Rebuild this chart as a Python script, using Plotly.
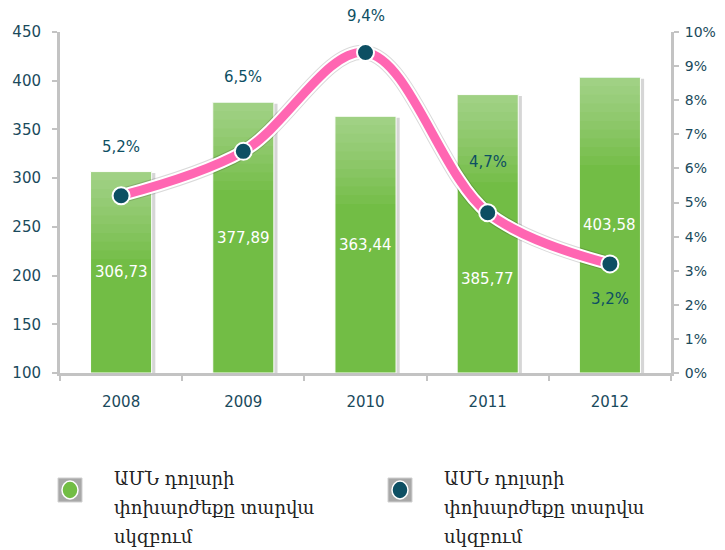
import plotly.graph_objects as go

years = ["2008", "2009", "2010", "2011", "2012"]
rates = [306.73, 377.89, 363.44, 385.77, 403.58]
pct = [5.2, 6.5, 9.4, 4.7, 3.2]
legend_lines = ["ԱՄՆ դոլարի", "փոխարժեքը տարվա", "սկզբում"]

TEAL = "#0d4f63"
GREEN = "#72bd45"
PINK = "#ff66b2"
GREY = "#c3c3c3"
AXIS_BASE = 100

# label offsets (pixels) – styling only
bar_label_shift = [0, 0, 0, -45, 0]
pct_label_shift = [49, 74, 36, 51, -35]

fig = go.Figure()

# soft shadow behind bars
fig.add_trace(go.Bar(
    x=years, y=[v - AXIS_BASE for v in rates], base=AXIS_BASE - 1.5,
    width=0.5, offset=-0.22,
    marker=dict(color="rgba(0,0,0,0.16)", line=dict(width=0)),
    showlegend=False, hoverinfo="skip",
))
# bars
fig.add_trace(go.Bar(
    x=years, y=[v - AXIS_BASE for v in rates], base=AXIS_BASE,
    width=0.5, marker=dict(color=GREEN, line=dict(color="white", width=1)),
    showlegend=False, hoverinfo="skip",
))
# light gradient at top of bars
steps = 10
for k in range(1, steps + 1):
    d = 9 * k
    fig.add_trace(go.Bar(
        x=years, y=[d] * len(rates), base=[v - d for v in rates],
        width=0.5, marker=dict(color="rgba(255,255,255,0.045)", line=dict(width=0)),
        showlegend=False, hoverinfo="skip",
    ))

# line with white halo
fig.add_trace(go.Scatter(
    x=years, y=pct, yaxis="y2", mode="lines",
    line=dict(color="rgba(0,0,0,0.15)", width=15, shape="spline", smoothing=1.0),
    showlegend=False, hoverinfo="skip",
))
fig.add_trace(go.Scatter(
    x=years, y=pct, yaxis="y2", mode="lines",
    line=dict(color="white", width=13, shape="spline", smoothing=1.0),
    showlegend=False, hoverinfo="skip",
))
fig.add_trace(go.Scatter(
    x=years, y=pct, yaxis="y2", mode="lines+markers",
    line=dict(color=PINK, width=9, shape="spline", smoothing=1.0),
    marker=dict(size=17, color=TEAL, line=dict(color="white", width=2)),
    showlegend=False, hoverinfo="skip",
))

# bar value labels
for i, (v, s) in enumerate(zip(rates, bar_label_shift)):
    fig.add_annotation(
        x=i, y=(AXIS_BASE + v) / 2, xref="x", yref="y",
        text=f"{v:.2f}".replace(".", ","), showarrow=False, yshift=s,
        font=dict(color="white", size=15, family="DejaVu Sans"),
    )

# percent labels
for i, (p, s) in enumerate(zip(pct, pct_label_shift)):
    fig.add_annotation(
        x=i, y=p, xref="x", yref="y2", text=f"{p:.1f}%".replace(".", ","),
        showarrow=False, yshift=s,
        font=dict(color=TEAL, size=15, family="DejaVu Sans"),
    )

axis_font = dict(color="#1a4a5c", size=15, family="DejaVu Sans")

fig.update_layout(
    width=717, height=542,
    margin=dict(l=52, r=54, t=24, b=177, autoexpand=False),
    paper_bgcolor="white", plot_bgcolor="white",
    barmode="overlay", showlegend=False,
    xaxis=dict(
        type="category", range=[-0.5, 4.5], showgrid=False,
        showline=True, linecolor=GREY, linewidth=3,
        ticks="outside", tickson="boundaries", ticklen=5, tickcolor=GREY, tickwidth=2,
        tickfont=axis_font, zeroline=False, ticklabelstandoff=13,
    ),
    yaxis=dict(
        range=[AXIS_BASE, 450], dtick=50, showgrid=False, zeroline=False,
        showline=True, linecolor=GREY, linewidth=3,
        ticks="outside", ticklen=5, tickcolor=GREY, tickwidth=2,
        tickfont=axis_font, automargin=False, ticklabelstandoff=8,
    ),
    yaxis2=dict(
        range=[0, 10], dtick=1, ticksuffix="%", overlaying="y", side="right",
        showgrid=False, zeroline=False,
        showline=True, linecolor=GREY, linewidth=3,
        ticks="outside", ticklen=5, tickcolor=GREY, tickwidth=2,
        tickfont=dict(color="#1a4a5c", size=14, family="DejaVu Sans"),
        automargin=False, ticklabelstandoff=3,
    ),
)

# manual legend (page pixel -> paper coords; plot area x 60..671, y 32..373)
def px(x):
    return (x - 60) / 611

def py(y):
    return (373 - y) / 341

for col, cx in [(GREEN, 70), (TEAL, 400)]:
    cy = 490
    fig.add_shape(type="rect", xref="paper", yref="paper",
                  x0=px(cx - 12), x1=px(cx + 12), y0=py(cy + 12), y1=py(cy - 12),
                  fillcolor="#a8a8a8", line=dict(color="#d0d0d0", width=1))
    fig.add_shape(type="circle", xref="paper", yref="paper",
                  x0=px(cx - 8), x1=px(cx + 8), y0=py(cy + 9), y1=py(cy - 9),
                  fillcolor=col, line=dict(color="white", width=1.5))
    for j, line in enumerate(legend_lines):
        fig.add_annotation(
            xref="paper", yref="paper", x=px(cx + 42), y=py(478 + 29 * j),
            xanchor="left", yanchor="middle", align="left", showarrow=False,
            text=line,
            font=dict(color="#222222", size=18, family="DejaVu Serif"),
        )

fig.write_html("out.html")
